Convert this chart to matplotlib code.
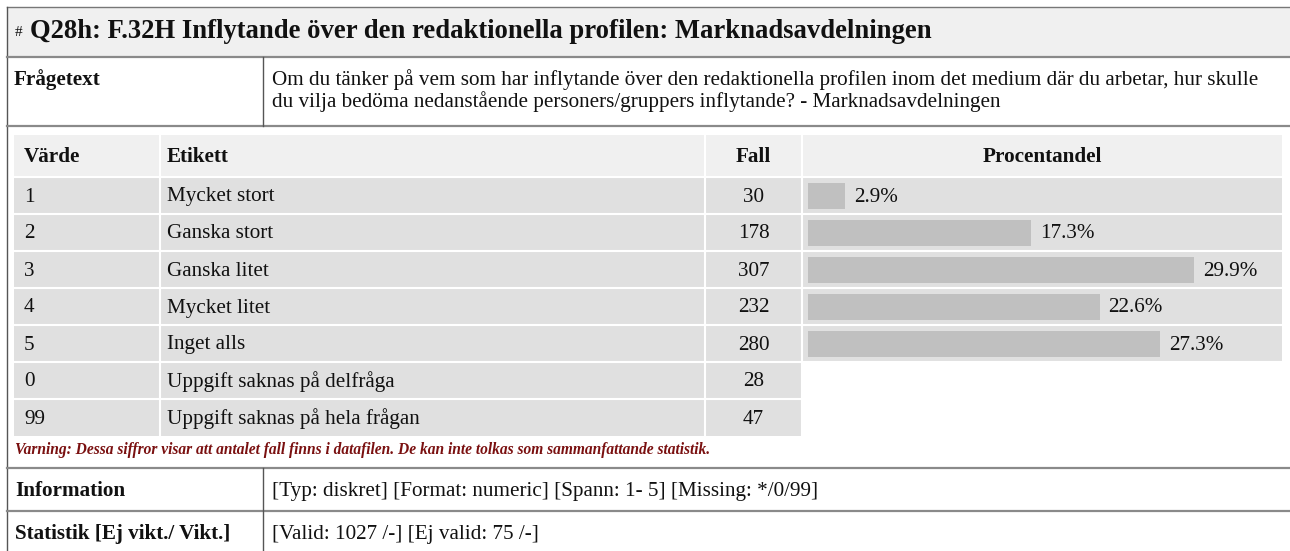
import matplotlib
matplotlib.use('Agg')
import matplotlib.pyplot as plt
from matplotlib.patches import Rectangle

plt.rcParams['font.family'] = ['Liberation Serif', 'DejaVu Serif']

# data
title = 'Q28h: F.32H Inflytande över den redaktionella profilen: Marknadsavdelningen'
question = ['Om du tänker på vem som har inflytande över den redaktionella profilen inom det medium där du arbetar, hur skulle',
            'du vilja bedöma nedanstående personers/gruppers inflytande? - Marknadsavdelningen']
headers = ['Värde', 'Etikett', 'Fall', 'Procentandel']
values = ['1', '2', '3', '4', '5', '0', '99']
labels = ['Mycket stort', 'Ganska stort', 'Ganska litet', 'Mycket litet',
          'Inget alls', 'Uppgift saknas på delfråga', 'Uppgift saknas på hela frågan']
counts = [30, 178, 307, 232, 280, 28, 47]
percents = [2.9, 17.3, 29.9, 22.6, 27.3]
warning = ('Varning: Dessa siffror visar att antalet fall finns i datafilen. '
           'De kan inte tolkas som sammanfattande statistik.')
info_labels = ['Information', 'Statistik [Ej vikt./ Vikt.]']
info_values = ['[Typ: diskret] [Format: numeric] [Spann: 1- 5] [Missing: */0/99]',
               '[Valid: 1027 /-] [Ej valid: 75 /-]']

W, H = 1290, 551
fig = plt.figure(figsize=(W / 100, H / 100), dpi=100)
ax = fig.add_axes([0, 0, 1, 1])
ax.set_xlim(0, W)
ax.set_ylim(H, 0)
ax.axis('off')

FS = 15.2
txt = '#111111'
dy = 1.5   # text sits a bit low in the html cells

# title band
ax.add_patch(Rectangle((7, 7), W - 7, 50, facecolor='#f0f0f0', edgecolor='none'))
ax.text(15, 33, '#', fontsize=11, color=txt, va='center')
ax.text(30, 32, title, fontsize=19.2, fontweight='bold', color=txt, va='center')

# frågetext row
ax.text(14, 78 + dy, 'Frågetext', fontsize=FS, fontweight='bold', color=txt, va='center')
ax.text(272, 78 + dy, question[0], fontsize=FS, color=txt, va='center')
ax.text(272, 100 + dy, question[1], fontsize=FS, color=txt, va='center')

# inner table
cols = [14, 160, 705, 802, 1282]
top, hdr_h, row_h = 135, 42, 37
ax.add_patch(Rectangle((cols[0], top), cols[-1] - cols[0], hdr_h, facecolor='#f0f0f0', edgecolor='none'))
hy = top + hdr_h / 2 + dy
ax.text(24, hy, headers[0], fontsize=FS, fontweight='bold', color=txt, va='center')
ax.text(167, hy, headers[1], fontsize=FS, fontweight='bold', color=txt, va='center')
ax.text((cols[2] + cols[3]) / 2, hy, headers[2], fontsize=FS, fontweight='bold', color=txt, va='center', ha='center')
ax.text((cols[3] + cols[4]) / 2, hy, headers[3], fontsize=FS, fontweight='bold', color=txt, va='center', ha='center')

row_top = top + hdr_h
centers = []
for i, (v, lab, c) in enumerate(zip(values, labels, counts)):
    y0 = row_top + i * row_h
    right = cols[-1] if i < len(percents) else cols[3]
    ax.add_patch(Rectangle((cols[0], y0), right - cols[0], row_h, facecolor='#e0e0e0', edgecolor='none'))
    yc = y0 + row_h / 2
    centers.append(yc)
    ax.text(24, yc + dy, v, fontsize=FS, color=txt, va='center')
    ax.text(167, yc + dy, lab, fontsize=FS, color=txt, va='center')
    ax.text((cols[2] + cols[3]) / 2, yc + dy, str(c), fontsize=FS, color=txt, va='center', ha='center')

# white cell separators
bottom = row_top + len(values) * row_h
for x in cols[1:4]:
    ax.plot([x, x], [top, bottom], color='white', lw=1.5)
for i in range(len(values)):
    y = row_top + i * row_h
    ax.plot([cols[0], cols[-1]], [y, y], color='white', lw=1.5)

# bars
bar_left, px_per_pct = 808, 12.9
bar_w = [p * px_per_pct for p in percents]
ax.barh(centers[:len(percents)], bar_w, left=bar_left, height=26, color='#c0c0c0')
for yc, p, w in zip(centers, percents, bar_w):
    ax.text(bar_left + w + 9, yc + dy, f'{p}%', fontsize=FS, color=txt, va='center')

# warning
ax.text(15, 450, warning, fontsize=11.2, fontweight='bold', style='italic', color='#7a1010', va='center')

# bottom info rows
for j, (lab, val) in enumerate(zip(info_labels, info_values)):
    yc = 490 + j * 43 + dy
    ax.text(15, yc, lab, fontsize=FS, fontweight='bold', color=txt, va='center')
    ax.text(272, yc, val, fontsize=FS, color=txt, va='center')

# borders
ax.plot([7, W], [7, 7], color='#777777', lw=1)
ax.plot([7, 7], [7, H], color='#555555', lw=1)
for y in [57, 126, 468, 511]:
    ax.plot([7, W], [y, y], color='#8a8a8a', lw=1.6)
ax.plot([263, 263], [57, 126], color='#555555', lw=1)
ax.plot([263, 263], [468, H], color='#555555', lw=1)

fig.savefig('out.png', dpi=100)
